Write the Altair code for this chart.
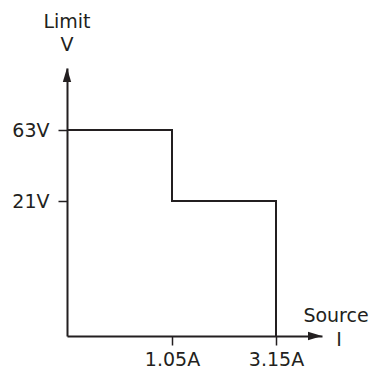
import altair as alt
import pandas as pd

# Step outline of the limit region (source current vs. limit voltage)
step_i = [0, 1.05, 1.05, 3.15, 3.15]
step_v = [63, 63, 21, 21, 0]
x_ticks = [1.05, 3.15]
y_ticks = [21, 63]
x_domain = [0, 1.05, 3.15, 4.2]
y_domain = [0, 21, 63, 100]

INK = "#231f20"
FONT = "DejaVu Sans"
FS = 19
FW = "normal"

df = pd.DataFrame({"i": step_i, "v": step_v, "o": list(range(len(step_i)))})

xs = alt.Scale(domain=x_domain, range=[0, 105, 209, 255], nice=False, zero=False)
ys = alt.Scale(domain=y_domain, range=[268, 133, 62, 0], nice=False, zero=False)

xaxis = alt.Axis(values=x_ticks, labelExpr="datum.value + 'A'", title=None, grid=False,
                 domainColor=INK, domainWidth=2, tickColor=INK, tickWidth=1.5, tickSize=9,
                 labelFont=FONT, labelFontSize=FS, labelColor=INK, labelPadding=5,
                 labelFontWeight=FW)
yaxis = alt.Axis(values=y_ticks, labelExpr="datum.value + 'V'", title=None, grid=False,
                 domainColor=INK, domainWidth=2, tickColor=INK, tickWidth=1.5, tickSize=9,
                 labelFont=FONT, labelFontSize=FS, labelColor=INK, labelPadding=9,
                 labelFontWeight=FW)

line = alt.Chart(df).mark_line(color=INK, strokeWidth=2, interpolate="linear").encode(
    x=alt.X("i:Q", scale=xs, axis=xaxis),
    y=alt.Y("v:Q", scale=ys, axis=yaxis),
    order="o:Q",
)

arrow_x = alt.Chart(pd.DataFrame({"i": [x_domain[-1]], "v": [0]})).mark_point(
    shape="M0,0 L-1,-0.3 L-1,0.3 Z", size=784, filled=True, color=INK, opacity=1
).encode(x=alt.X("i:Q", scale=xs), y=alt.Y("v:Q", scale=ys))

arrow_y = alt.Chart(pd.DataFrame({"i": [0], "v": [y_domain[-1]]})).mark_point(
    shape="M0,0 L-0.3,1 L0.3,1 Z", size=784, filled=True, color=INK, opacity=1
).encode(x=alt.X("i:Q", scale=xs), y=alt.Y("v:Q", scale=ys))

def label(txt, x, y):
    return alt.Chart(pd.DataFrame({"t": [txt]})).mark_text(
        font=FONT, fontSize=FS, fontWeight=FW, color=INK, align="center", baseline="middle"
    ).encode(text="t:N", x=alt.value(x), y=alt.value(y))

texts = [
    label("Limit", 0, -46),
    label("V", 0, -23.5),
    label("Source", 269, 248),
    label("I", 272, 271.5),
]

chart = alt.layer(line, arrow_x, arrow_y, *texts).properties(
    width=255, height=268,
    background="white",
    autosize=alt.AutoSizeParams(type="none"),
    padding={"left": 59, "top": 60, "right": 48, "bottom": 37},
).configure_view(strokeWidth=0, stroke=None)

chart.save("out.html", embed_options={"renderer": "svg", "actions": False})
